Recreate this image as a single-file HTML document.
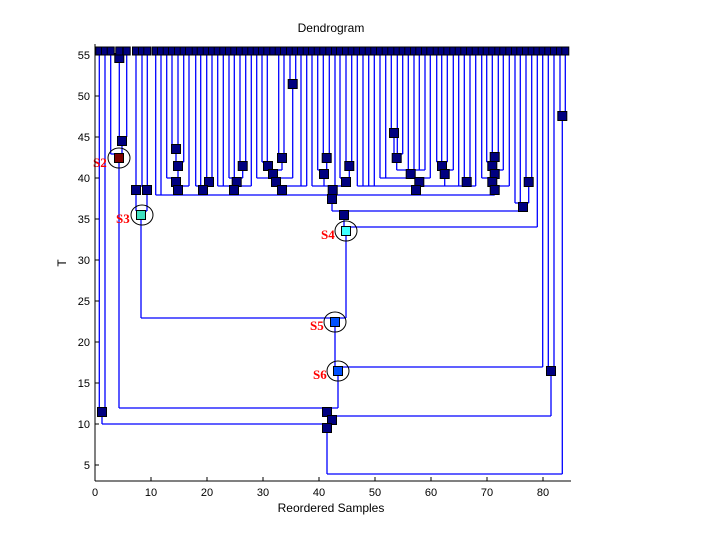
<!DOCTYPE html>
<html><head><meta charset="utf-8"><style>
html,body{margin:0;padding:0;background:#fff;}
svg{display:block;font-family:"Liberation Sans",sans-serif;}
</style></head><body>
<svg id="s" width="720" height="540" viewBox="0 0 720 540" xmlns="http://www.w3.org/2000/svg">
<rect width="720" height="540" fill="#fff"/>
<g id="lines" stroke="#0000ff" stroke-width="1.3" fill="none"></g>
<g id="marks"></g>
<g stroke="#000" fill="none" stroke-width="1">
<ellipse cx="119" cy="158" rx="11" ry="10"/>
<ellipse cx="142" cy="215" rx="11" ry="10"/>
<ellipse cx="346" cy="231" rx="11" ry="10"/>
<ellipse cx="335" cy="322" rx="11" ry="10"/>
<ellipse cx="338" cy="371" rx="11" ry="10"/>
</g>
<g fill="#ff0000" font-family="Liberation Serif,serif" font-weight="bold" font-size="13">
<text x="93" y="167">S2</text>
<text x="116" y="223">S3</text>
<text x="321" y="239">S4</text>
<text x="310" y="330">S5</text>
<text x="313" y="379">S6</text>
</g>
<g id="axes" stroke="#000" stroke-width="1"></g>
<g id="lab" font-size="11" fill="#000"></g>
<text x="331" y="32" font-size="12" text-anchor="middle">Dendrogram</text>
<text x="331" y="512" font-size="12" text-anchor="middle">Reordered Samples</text>
<text x="0" y="0" font-size="12" text-anchor="middle" transform="translate(66,263) rotate(-90)">T</text>
</svg>
<script>
var NS="http://www.w3.org/2000/svg";
var L=document.getElementById("lines"),M=document.getElementById("marks");
function el(p,t,a){var e=document.createElementNS(NS,t);for(var k in a)e.setAttribute(k,a[k]);p.appendChild(e);return e;}
function line(x1,y1,x2,y2){el(L,"line",{x1:x1,y1:y1,x2:x2,y2:y2});}
var marks=[];
function N(x,y,kids,fill){return {x:x,y:y,kids:kids,fill:fill||"#000080"};}
function draw(n,isRoot){
  var by=n.y-4,xs=[];
  n.kids.forEach(function(k){
    if(typeof k==="number"){line(k,55,k,by);xs.push(k);}
    else{draw(k);line(k.x,k.y,k.x,by);xs.push(k.x);}
  });
  var mn=Math.min.apply(null,xs),mx=Math.max.apply(null,xs);
  if(mx>mn)line(mn,by,mx,by);
  if(!isRoot){line(n.x,by,n.x,n.y);marks.push(n);}
}
var S2=N(119,158,[110.7,N(122,141,[N(119.3,58,[119.3]),126.7])],"#800000");
var S3=N(141,215,[N(136,190,[136,142]),N(147,190,[147.3])],"#40e0c0");
var cC=N(178,190,[N(176,182,[166.7,N(178,166,[N(176,149,[172,178]),183.7])]),189]);
var cD=N(203,190,[195.7,200.7,N(209,182,[206.7,212])]);
var cE=N(234,190,[217.7,223.3,N(236.7,182,[229,N(242.7,166,[240,245.7]),234.3]),251.3]);
var cF=N(282,190,[N(276,182,[256.7,N(273,174,[N(268,166,[262,267.3]),N(282,158,[278.7,284])]),N(292.7,84,[290,295.7])]),301,306.7]);
var cG=N(332.7,190,[312,N(324,174,[317.7,N(326.7,158,[323.3,329.3])]),335,N(346,182,[340,N(349.3,166,[346,351.7])])]);
var cH=N(416,190,[357.3,363,368.7,374.3,N(419.3,182,[380,385.7,N(410.7,174,[N(396.7,158,[N(394,133,[391.3]),397.3,402.7]),408.3,414,419.3,425]),430.3]),N(444.7,174,[N(442,166,[436.7,441.7,447.3]),453.3]),458.7,N(466.7,182,[464.3,470]),475.7]);
var cI=N(494.7,190,[N(492.3,182,[481.7,N(494.7,174,[N(492.3,166,[486.7,N(494.7,157,[492.3,498.3])]),503.3])]),509.3]);
var big=N(332,199,[155.7,161,cC,cD,cE,cF,cG,cH,cI]);
var n523=N(523,207,[515,520.3,N(528.7,182,[526,531.7])]);
var S4=N(346,231,[N(344,215,[big,n523]),537.3],"#40ffff");
var S5=N(335,322,[S3,S4],"#0050ff");
var S6=N(338,371,[S5,542.7],"#0050ff");
var A=N(327,412,[S2,S6]);
var B=N(332,420,[A,N(551,371,[548.3,554])]);
var L0=N(102,412,[99.3,105]);
var C=N(327,428,[L0,B]);
var root=N(326,478,[C,N(562.3,116,[560,565.3])]);
draw(root,true);
marks.forEach(function(n){el(M,"rect",{x:n.x-4.5,y:n.y-4.5,width:9,height:9,fill:n.fill,stroke:"#000","stroke-width":1});});
var leaves=[99.3,105,110.7,119.3,126.7,136,142,147.3,155.7,161,166.7,172,178,183.7,189,195.7,200.7,206.7,212,217.7,223.3,229,234.3,240,245.7,251.3,256.7,262,267.3,273.3,278.7,284,290,295.7,301,306.7,312,317.7,323.3,329.3,335,340,346,351.7,357.3,363,368.7,374.3,380,385.7,391.3,397.3,402.7,408.3,414,419.3,425,430.3,436.7,441.7,447.3,453.3,458.7,464.3,470,475.7,481.7,486.7,492.3,498.3,503.3,509.3,515,520.3,526,531.7,537.3,542.7,548.3,554,560,565.3];
leaves.forEach(function(x){el(M,"rect",{x:x-3.5,y:47,width:7,height:8,fill:"#000080",stroke:"#000","stroke-width":1});});
var A2=document.getElementById("axes"),T=document.getElementById("lab");
el(A2,"line",{x1:95,y1:44,x2:95,y2:481});
el(A2,"line",{x1:95,y1:481,x2:571,y2:481});
for(var v=5;v<=55;v+=5){var y=55+(55-v)*8.2;el(A2,"line",{x1:95,y1:y,x2:99,y2:y});var t=el(T,"text",{x:90,y:y+4,"text-anchor":"end"});t.textContent=v;}
for(var v=0;v<=80;v+=10){var x=95+5.6*v;el(A2,"line",{x1:x,y1:481,x2:x,y2:477});var t=el(T,"text",{x:x,y:496,"text-anchor":"middle"});t.textContent=v;}
</script>
</body></html>
